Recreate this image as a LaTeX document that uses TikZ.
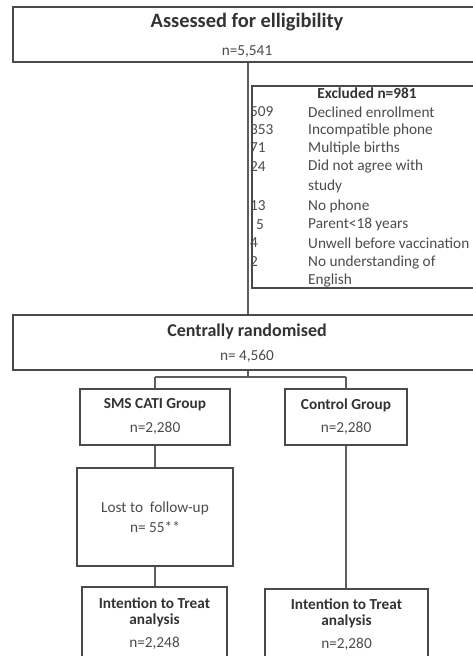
\documentclass[tikz,border=0pt]{standalone}
\usepackage{fontspec}
\setmainfont{Carlito}
\definecolor{boxline}{HTML}{4A4A4A}
\definecolor{wire}{HTML}{5E5E5E}
\definecolor{headtxt}{HTML}{333333}
\definecolor{bodytxt}{HTML}{4C4C4C}
\begin{document}
\begin{tikzpicture}[x=1pt,y=-1pt,
  box/.style={draw=boxline, line width=1.8pt, fill=white, inner sep=0pt},
  conn/.style={draw=wire, line width=1.2pt},
  head/.style={inner sep=0pt, text=headtxt, font=\fontsize{15.3}{18}\selectfont\bfseries},
  body/.style={inner sep=0pt, text=bodytxt, font=\fontsize{15.3}{18}\selectfont},
  num/.style={body, anchor=west},
  item/.style={body, anchor=west}]
\useasboundingbox (0,0) rectangle (472,656);

% boxes
\node[box, minimum width=470pt, minimum height=55pt] (assess) at (248,34.5) {};
\node[box, minimum width=231pt, minimum height=202pt] (excl) at (367.5,187) {};
\node[box, minimum width=470pt, minimum height=55pt] (rand) at (248,342.5) {};
\node[box, minimum width=150pt, minimum height=56pt] (sms) at (155,417) {};
\node[box, minimum width=122pt, minimum height=56pt] (ctrl) at (346,417) {};
\node[box, minimum width=156pt, minimum height=98pt] (lost) at (155,517) {};
\node[box, minimum width=145pt, minimum height=80pt] (ittA) at (154.5,627) {};
\node[box, minimum width=163pt, minimum height=80pt] (ittB) at (346.5,629) {};

% connectors
\coordinate (split) at (248,377);
\draw[conn] (assess.south) -- (rand.north);
\draw[conn] (rand.south) -- (split);
\draw[conn] (sms.north |- split) -- (ctrl.north |- split);
\draw[conn] (sms.north |- split) -- (sms.north);
\draw[conn] (ctrl.north |- split) -- (ctrl.north);
\draw[conn] (sms.south) -- (lost.north);
\draw[conn] (lost.south) -- (lost.south |- ittA.north);
\draw[conn] (ctrl.south) -- (ctrl.south |- ittB.north);

% texts
\node[head, font=\fontsize{20.4}{24}\selectfont\bfseries] (assessT) at (247,22) {Assessed for elligibility};
\node[body] (assessN) at (247,52) {n=5,541};

\node[head] (exclT) at (367,93) {Excluded n=981};
\node[num] (n1) at (250,112) {509};
\node[item] (l1) at (308,112) {Declined enrollment};
\node[num] (n2) at (250,130) {353};
\node[item] (l2) at (308,130) {Incompatible phone};
\node[num] (n3) at (250,148) {71};
\node[item] (l3) at (308,148) {Multiple births};
\node[num] (n4) at (250,167) {24};
\node[item] (l4) at (308,167) {Did not agree with};
\node[item] (l4b) at (308,186) {study};
\node[num] (n5) at (250,206) {13};
\node[item] (l5) at (308,206) {No phone};
\node[num] (n6) at (256,225) {5};
\node[item] (l6) at (308,225) {Parent<18 years};
\node[num] (n7) at (250,243) {4};
\node[item] (l7) at (308,243) {Unwell before vaccination};
\node[num] (n8) at (250,262) {2};
\node[item] (l8) at (308,262) {No understanding of};
\node[item] (l8b) at (308,280) {English};

\node[head, font=\fontsize{18}{22}\selectfont\bfseries] (randT) at (247,332) {Centrally randomised};
\node[body] (randN) at (247,356) {n= 4,560};

\node[head] (smsT) at (155,405) {SMS CATI Group};
\node[body] (smsN) at (155,428) {n=2,280};
\node[head] (ctrlT) at (346,405) {Control Group};
\node[body] (ctrlN) at (346,428) {n=2,280};

\node[body] (lostT) at (155,508) {Lost to\ \ follow-up};
\node[body] (lostN) at (155,527) {n= 55**};

\node[head] (ittAT) at (154.5,603) {Intention to Treat};
\node[head] (ittAT2) at (154.5,620) {analysis};
\node[body] (ittAN) at (154.5,643) {n=2,248};
\node[head] (ittBT) at (346.5,604) {Intention to Treat};
\node[head] (ittBT2) at (346.5,621) {analysis};
\node[body] (ittBN) at (346.5,644) {n=2,280};
\end{tikzpicture}
\end{document}
